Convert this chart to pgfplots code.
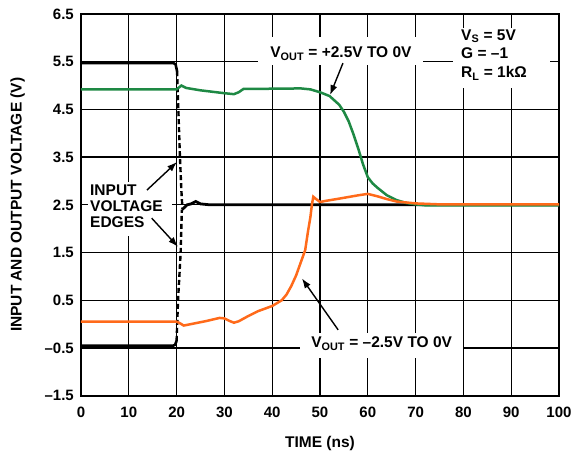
\documentclass[border=0pt]{standalone}
\usepackage{fontspec}
\setmainfont{Liberation Sans}
\usepackage{pgfplots}
\pgfplotsset{compat=1.18}
\usetikzlibrary{arrows.meta}
\definecolor{tgreen}{RGB}{30,137,68}
\definecolor{torange}{RGB}{255,106,26}
\newcommand{\af}{\fontsize{15.5}{16}\selectfont\bfseries}
\newcommand{\tkf}{\fontsize{15}{15}\selectfont\bfseries}
% grid lines as thin filled bars (axis units: 1pt = 0.2092 in x, 0.02096 in y)
\newcommand{\vg}[1]{\fill[black] (axis cs:#1-0.136,-1.5) rectangle (axis cs:#1+0.136,6.5);}
\newcommand{\hg}[1]{\fill[black] (axis cs:0,#1-0.0136) rectangle (axis cs:100,#1+0.0136);}
\begin{document}
\begin{tikzpicture}
\begin{axis}[
  scale only axis, width=478pt, height=381.7pt,
  xmin=0, xmax=100, ymin=-1.5, ymax=6.5, clip=false,
  xtick={0,10,20,30,40,50,60,70,80,90,100},
  xticklabels={0,10,20,30,40,50,60,70,80,90,100},
  ytick={-1.5,-0.5,0.5,1.5,2.5,3.5,4.5,5.5,6.5},
  yticklabels={–1.5,–0.5,0.5,1.5,2.5,3.5,4.5,5.5,6.5},
  axis line style={draw=none},
  major tick length=0pt,
  xticklabel style={font=\tkf, anchor=base, inner sep=0pt, yshift=-22.3pt},
  yticklabel style={font=\tkf, anchor=east, inner sep=0pt, xshift=-7pt},
]
% grid
\vg{10}\vg{20}\vg{30}\vg{40}\vg{50}\vg{60}\vg{70}\vg{80}\vg{90}
\hg{-0.5}\hg{0.5}\hg{1.5}\hg{2.5}\hg{3.5}\hg{4.5}\hg{5.5}
% frame (2pt)
\fill[black] (axis cs:-0.2092,-1.521) rectangle (axis cs:100.2092,-1.479);
\fill[black] (axis cs:-0.2092,6.479) rectangle (axis cs:100.2092,6.521);
\fill[black] (axis cs:-0.2092,-1.521) rectangle (axis cs:0.2092,6.521);
\fill[black] (axis cs:99.7908,-1.521) rectangle (axis cs:100.2092,6.521);
% input edges (black)
\addplot[black, line width=2.6pt] coordinates {(0,5.47) (19.4,5.47) (19.8,5.44) (20.1,5.3)};
\addplot[black, line width=2.4pt, dash pattern=on 5pt off 3pt] coordinates {(20.1,5.3) (20.4,4.4) (20.7,3.5) (21.0,2.8) (21.2,2.45)};
\addplot[black, line width=2.6pt] coordinates {(0,-0.45) (19.3,-0.45) (19.7,-0.43) (20.0,-0.35)};
\addplot[black, line width=2.4pt, dash pattern=on 5pt off 3pt] coordinates {(20.0,-0.35) (20.3,0.5) (20.85,1.5) (21.1,2.4)};
\addplot[black, line width=2.8pt] coordinates {(21.1,2.4) (21.6,2.44) (22.2,2.5) (23,2.52) (24,2.57) (25,2.52) (27,2.5) (100,2.5)};
% green: VOUT = +2.5V to 0V
\addplot[tgreen, line width=2.5pt] coordinates {
(0,4.92) (20,4.92) (20.5,4.96) (21,5.0) (22,4.95) (25,4.9) (30,4.84) (32,4.82) (33,4.86) (34,4.93)
(36,4.93) (46,4.94) (48,4.92) (50,4.86) (52,4.78) (54,4.6) (55,4.45) (56,4.25) (57,3.98) (58,3.68)
(59,3.35) (60,3.08) (61,2.95) (62,2.86) (64,2.7) (66,2.6) (68,2.54) (70,2.51) (72,2.49) (100,2.49)};
% orange: VOUT = -2.5V to 0V
\addplot[torange, line width=2.5pt] coordinates {
(0,0.05) (20,0.05) (20.5,0.03) (21.5,-0.03) (23,0.0) (26,0.06) (29,0.13) (30,0.12) (31,0.07) (32,0.03)
(33,0.06) (35,0.17) (37,0.27) (40,0.38) (42,0.5) (43,0.62) (44,0.8) (45,1.02) (46,1.3) (46.9,1.55)
(47.5,1.95) (48,2.25) (48.3,2.5) (48.6,2.67) (49.2,2.62) (50,2.56) (51,2.58) (54,2.63) (58,2.70)
(60,2.73) (62,2.68) (64,2.62) (66,2.57) (68,2.55) (70,2.53) (75,2.51) (100,2.51)};
% white boxes behind annotations
\node[fill=white, inner sep=0pt, minimum width=165pt, minimum height=28pt] at (axis cs:54.25,5.725) {};
\node[fill=white, inner sep=0pt, minimum width=97pt, minimum height=60pt] at (axis cs:87.95,5.578) {};
\node[fill=white, inner sep=0pt, minimum width=84pt, minimum height=54pt] at (axis cs:10.25,2.413) {};
\node[fill=white, inner sep=0pt, minimum width=163pt, minimum height=25pt] at (axis cs:62.85,-0.448) {};
% annotations
\node[font=\af, anchor=base, inner sep=0pt] at (axis cs:54.39,5.578) {V\textsubscript{OUT} = +2.5V TO 0V};
\node[font=\af, anchor=base west, inner sep=0pt] at (axis cs:79.5,5.955) {V\textsubscript{S} = 5V};
\node[font=\af, anchor=base west, inner sep=0pt] at (axis cs:79.5,5.557) {G = –1};
\node[font=\af, anchor=base west, inner sep=0pt] at (axis cs:79.5,5.159) {R\textsubscript{L} = 1kΩ};
\node[font=\af, anchor=base west, inner sep=0pt] at (axis cs:1.88,2.706) {INPUT};
\node[font=\af, anchor=base west, inner sep=0pt] at (axis cs:1.88,2.371) {VOLTAGE};
\node[font=\af, anchor=base west, inner sep=0pt] at (axis cs:1.88,2.035) {EDGES};
\node[font=\af, anchor=base, inner sep=0pt] at (axis cs:62.9,-0.50) {V\textsubscript{OUT} = –2.5V TO 0V};
% arrows
\draw[-{Latex[length=10pt,width=7pt]}, line width=1.4pt] (axis cs:54.8,5.47) -- (axis cs:52.1,4.80);
\draw[-{Latex[length=10pt,width=7pt]}, line width=1.4pt] (axis cs:13.8,2.81) -- (axis cs:20.1,3.40);
\draw[-{Latex[length=10pt,width=7pt]}, line width=1.4pt] (axis cs:14.8,2.22) -- (axis cs:20.3,1.62);
\draw[-{Latex[length=10pt,width=7pt]}, line width=1.4pt] (axis cs:53.8,-0.12) -- (axis cs:46.2,0.96);
\coordinate (sw) at (rel axis cs:0,0);
\coordinate (ne) at (rel axis cs:1,1);
\coordinate (xl) at (rel axis cs:0.5,0);
\coordinate (yl) at (rel axis cs:0,0.5);
\end{axis}
\node[font=\af, anchor=base, inner sep=0pt] at ([yshift=-52.3pt]xl) {TIME (ns)};
\node[font=\af, anchor=base, rotate=90, inner sep=0pt] at ([xshift=-59.3pt]yl) {INPUT AND OUTPUT VOLTAGE (V)};
\pgfresetboundingbox
\path ([shift={(-81pt,-60.3pt)}]sw) rectangle ([shift={(15pt,14pt)}]ne);
\end{tikzpicture}
\end{document}
